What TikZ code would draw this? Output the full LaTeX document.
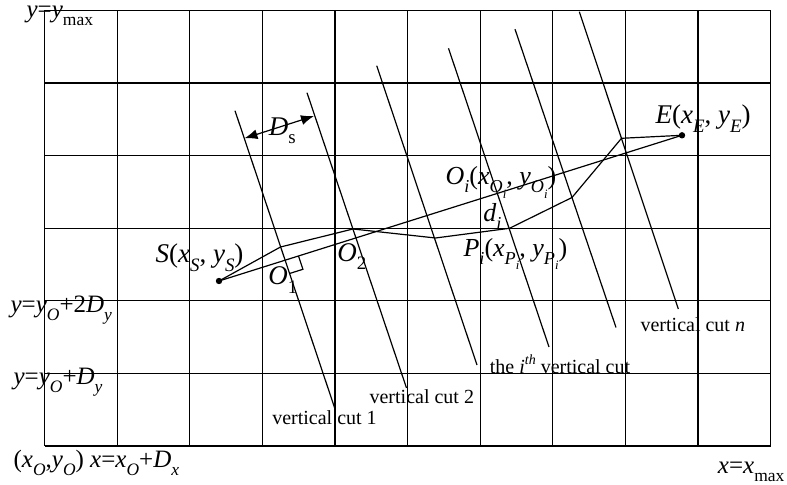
\documentclass[tikz,border=0pt]{standalone}
\usepackage{fontspec}
\setmainfont{Liberation Serif}
\usetikzlibrary{arrows.meta,calc}
\newcommand\lo[1]{\raisebox{-0.3em}{\scalebox{0.7}{#1}}}
\newcommand\hi[1]{\raisebox{0.45em}{\scalebox{0.7}{#1}}}
\newcommand\mi[1]{\textit{#1}}
\begin{document}
\begin{tikzpicture}[x=0.5pt,y=-0.5pt,line width=0.6pt,
  mathlbl/.style={font=\fontsize{13}{15}\selectfont,inner sep=0pt,anchor=base west},
  biglbl/.style={font=\fontsize{13.5}{15}\selectfont,inner sep=0pt,anchor=base west},
  axislbl/.style={font=\fontsize{12.5}{14}\selectfont,inner sep=0pt,anchor=base west},
  cutlbl/.style={font=\fontsize{10}{12}\selectfont,inner sep=0pt,anchor=base west},
  dot/.style={circle,fill,inner sep=0pt,minimum size=3.2pt},
  dsarrow/.style={{Latex[length=6.5pt,width=5pt]}-{Latex[length=6.5pt,width=5pt]}}]
\useasboundingbox (0,0) rectangle (787,485);
% grid
\foreach \i in {0,...,10} \draw ({44.5+72.6*\i},10.5) -- ({44.5+72.6*\i},446);
\foreach \j in {0,...,6} \draw (44.5,{10.5+72.58*\j}) -- (770.5,{10.5+72.58*\j});
% vertical cuts
\coordinate (c1t) at (235,110.7);   \coordinate (c1b) at (335,409);
\coordinate (c2t) at (307,92.7);    \coordinate (c2b) at (406.5,388);
\coordinate (c3t) at (376.7,65.7);  \coordinate (c3b) at (477,365);
\coordinate (c4t) at (448.5,48.3);  \coordinate (c4b) at (549,347);
\coordinate (c5t) at (515,29.2);    \coordinate (c5b) at (616,327.5);
\coordinate (c6t) at (579.3,11.7);  \coordinate (c6b) at (678.3,309);
\foreach \k in {1,...,6} \draw (c\k t) -- (c\k b);
% start, end and path
\coordinate (S) at (219,281);
\coordinate (E) at (682,135.3);
\coordinate (p1) at (280.5,247);
\coordinate (p2) at (353,229);
\coordinate (p3) at (435.5,238);
\coordinate (p4) at (509.5,228.3);
\coordinate (p5) at (572,197.5);
\coordinate (p6) at (621.5,138.3);
\draw[line join=round] (S) -- (p1) -- (p2) -- (p3) -- (p4) -- (p5) -- (p6) -- (E);
\draw (S) -- (E);
\node[dot] (Sdot) at (S) {};
\node[dot] (Edot) at (E) {};
% right angle at O1
\coordinate (O1) at (intersection of S--E and c1t--c1b);
\coordinate (ra1) at ($(O1)!7pt!(E)$);
\coordinate (ra3) at ($(O1)!7pt!(c1b)$);
\coordinate (ra2) at ($(ra1)+(ra3)-(O1)$);
\draw (ra1) -- (ra2) -- (ra3);
% D_s arrow
\coordinate (ds1) at (244.5,138.3);
\coordinate (ds2) at (314,116);
\draw[dsarrow] (ds1) -- (ds2);
% labels
\node[biglbl] (lS) at (155,263) {\mi{S}(\mi{x}\lo{\mi{S}}, \mi{y}\lo{\mi{S}})};
\node[biglbl] (lE) at (655,124) {\mi{E}(\mi{x}\lo{\mi{E}}, \mi{y}\lo{\mi{E}})};
\node[mathlbl] (lOi) at (445,185) {\mi{O}\lo{\mi{i}}(\mi{x}\lo{\mi{O}\lo{\mi{i}}}, \mi{y}\lo{\mi{O}\lo{\mi{i}}})};
\node[mathlbl] (lPi) at (463,256.7) {\mi{P}\lo{\mi{i}}(\mi{x}\lo{\mi{P}\lo{\mi{i}}}, \mi{y}\lo{\mi{P}\lo{\mi{i}}})};
\node[mathlbl] (ldi) at (482.7,221.7) {\mi{d}\lo{\mi{i}}};
\node[biglbl] (lO1) at (267.7,285) {\mi{O}\lo{1}};
\node[biglbl] (lO2) at (336.7,261.7) {\mi{O}\lo{2}};
\node[biglbl] (lDs) at (268.3,135.7) {\mi{D}\lo{s}};
\node[axislbl] (lymax) at (26,18) {\mi{y}=\mi{y}\lo{max}};
\node[axislbl] (ly2) at (10,313) {\mi{y}=\mi{y}\lo{\mi{O}}+2\mi{D}\lo{\mi{y}}};
\node[axislbl] (ly1) at (13,385) {\mi{y}=\mi{y}\lo{\mi{O}}+\mi{D}\lo{\mi{y}}};
\node[axislbl] (lorig) at (13,468) {(\mi{x}\lo{\mi{O}},\mi{y}\lo{\mi{O}}) \mi{x}=\mi{x}\lo{\mi{O}}+\mi{D}\lo{\mi{x}}};
\node[axislbl,anchor=base east] (lxmax) at (785,474) {\mi{x}=\mi{x}\lo{max}};
\node[cutlbl] (l1) at (271.7,425) {vertical cut 1};
\node[cutlbl] (l2) at (369,403.3) {vertical cut 2};
\node[cutlbl] (li) at (489.3,373.3) {the \mi{i}\hi{\mi{th}} vertical cut};
\node[cutlbl] (ln) at (640,331.7) {vertical cut \mi{n}};
\end{tikzpicture}
\end{document}
